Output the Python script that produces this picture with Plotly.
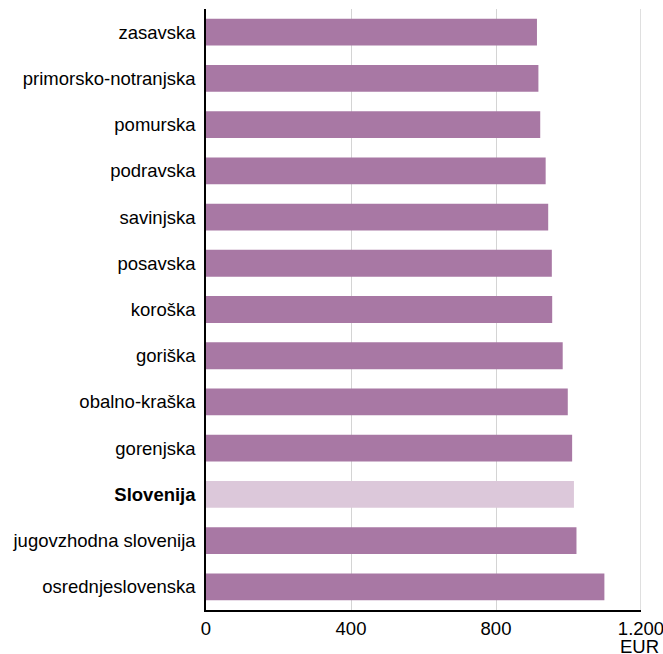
import plotly.graph_objects as go

categories = ["zasavska", "primorsko-notranjska", "pomurska", "podravska", "savinjska",
              "posavska", "koroška", "goriška", "obalno-kraška", "gorenjska",
              "Slovenija", "jugovzhodna slovenija", "osrednjeslovenska"]
values = [913, 917, 922, 937, 944, 954, 955, 984, 998, 1010, 1015, 1022, 1099]
x_tickvals = [0, 400, 800, 1200]
x_ticktext = ["0", "400", "800", "1.200"]
unit_label = "EUR"

PURPLE = "#A878A4"
LIGHT = "#DCC8DA"
GRID = "#D4D4D4"
colors = [LIGHT if c == "Slovenija" else PURPLE for c in categories]
ticktext = [f"<b>{c}</b>" if c == "Slovenija" else c for c in categories]

fig = go.Figure(go.Bar(
    y=categories, x=values, orientation="h",
    marker=dict(color=colors, line=dict(width=0)),
    hoverinfo="x+y",
))

FONT = "Liberation Sans, Arial, sans-serif"
FS = 18.5
fig.update_layout(
    width=663, height=654,
    margin=dict(l=206, r=22, t=9, b=44, autoexpand=False),
    plot_bgcolor="white", paper_bgcolor="white",
    bargap=0.42,
    showlegend=False,
    font=dict(family=FONT, size=FS, color="#000000"),
    xaxis=dict(
        range=[0, 1200], tickvals=x_tickvals, ticktext=x_ticktext,
        showgrid=True, gridcolor=GRID, gridwidth=1,
        showline=True, linecolor="#000000", linewidth=1.5,
        zeroline=False, ticks="", ticklabelstandoff=1,
        ticklabeloverflow="allow",
        tickfont=dict(family=FONT, size=FS, color="#000000"),
        fixedrange=True, automargin=False,
    ),
    yaxis=dict(
        categoryorder="array", categoryarray=categories,
        tickvals=categories, ticktext=ticktext,
        autorange="reversed",
        showgrid=False, showline=True, linecolor="#000000", linewidth=1.5,
        zeroline=False, ticks="", ticklabelstandoff=5,
        ticklabeloverflow="allow",
        tickfont=dict(family=FONT, size=FS, color="#000000"),
        fixedrange=True, automargin=False,
    ),
    shapes=[dict(type="line", xref="x", yref="paper", x0=x_tickvals[-1], x1=x_tickvals[-1],
                 y0=0, y1=1, line=dict(color=GRID, width=1.5), layer="below")],
    annotations=[dict(
        text=unit_label, xref="paper", yref="paper",
        x=1 + (661 - 641) / 435, y=0, xanchor="right", yanchor="middle",
        yshift=-36, showarrow=False,
        font=dict(family=FONT, size=FS, color="#000000"),
    )],
)

fig.write_html("out.html", config={"displayModeBar": False},
               post_script="document.body.style.margin='0';document.body.style.overflow='hidden';")
